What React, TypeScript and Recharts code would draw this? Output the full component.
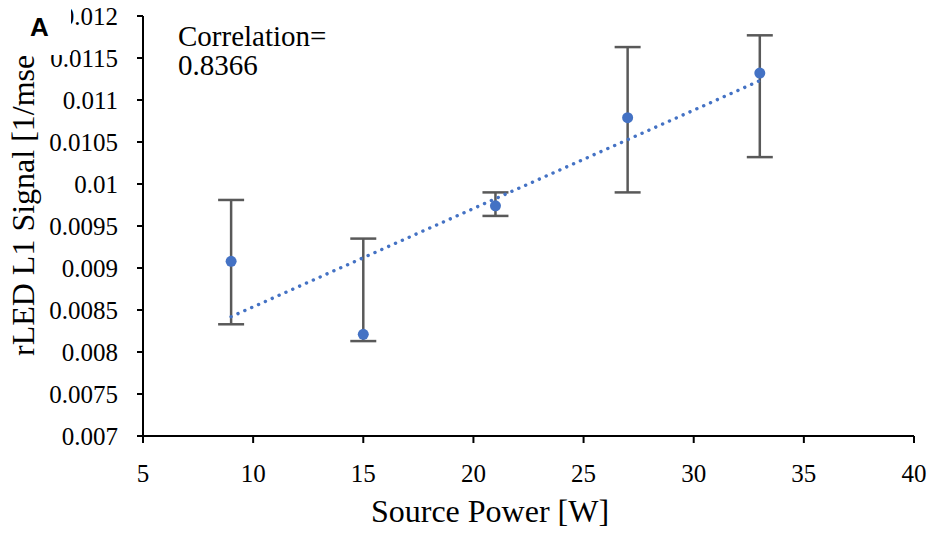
import React from 'react';
import { ComposedChart, Scatter, Line, XAxis, YAxis, ErrorBar } from 'recharts';

const powers = [9, 15, 21, 27, 33];
const signals = [0.00908, 0.00821, 0.00974, 0.01079, 0.01132];
const errLow = [0.00833, 0.00813, 0.00962, 0.0099, 0.01032];
const errHigh = [0.00981, 0.00935, 0.0099, 0.01163, 0.01177];
const trendX = [9, 33];
const trendY = [0.00842, 0.01123];
const xTicks = [5, 10, 15, 20, 25, 30, 35, 40];
const yTicks = [0.007, 0.0075, 0.008, 0.0085, 0.009, 0.0095, 0.01, 0.0105, 0.011, 0.0115, 0.012];
const xTitle = 'Source Power [W]';
const yTitle = 'rLED L1 Signal [1/msec]';
const corrLines = ['Correlation=', '0.8366'];
const panelLabel = 'A';

const pointData = powers.map((x, i) => ({
  x,
  y: signals[i],
  err: [signals[i] - errLow[i], errHigh[i] - signals[i]],
}));
const trendData = trendX.map((x, i) => ({ x, y: trendY[i] }));

const SERIF = 'Liberation Serif, Times New Roman, serif';
const SANS = 'Liberation Sans, Arial, sans-serif';
const BLUE = '#4472C4';

const XTick = (props: any) => (
  <text x={props.x} y={props.y} dy="0.71em" textAnchor="middle" fontSize={25} fontFamily={SERIF} fill="#000">
    {String(props.payload.value)}
  </text>
);

const YTick = (props: any) => (
  <text x={props.x} y={props.y} dy="0.355em" textAnchor="end" fontSize={25} fontFamily={SERIF} fill="#000">
    {String(props.payload.value)}
  </text>
);

const YExtras = () => (
  <text
    x={34}
    y={356}
    transform="rotate(-90 34 356)"
    textAnchor="start"
    fontSize={32}
    fontFamily={SERIF}
    fill="#000"
  >
    {yTitle}
  </text>
);

const XExtras = () => (
  <g>
    <text x={490} y={522} textAnchor="middle" fontSize={32} fontFamily={SERIF} fill="#000">
      {xTitle}
    </text>
    {corrLines.map((t, i) => (
      <text key={t} x={178} y={46 + i * 29} fontSize={29} fontFamily={SERIF} fill="#000">
        {t}
      </text>
    ))}
  </g>
);

const Dot = (props: any) => <circle cx={props.cx} cy={props.cy} r={5.5} fill={BLUE} />;

export default function App() {
  return (
    <div style={{ position: 'absolute', left: 0, top: 0, width: 934, height: 533, background: '#fff' }}>
      <ComposedChart width={934} height={533} margin={{ top: 16, right: 20, bottom: 0, left: 0 }}>
        <XAxis
          dataKey="x"
          type="number"
          domain={[5, 40]}
          ticks={xTicks}
          allowDataOverflow
          height={97}
          tickSize={7}
          tickMargin={21}
          axisLine={{ stroke: '#000', strokeWidth: 2 }}
          tickLine={{ stroke: '#000', strokeWidth: 2 }}
          tick={<XTick />}
          label={<XExtras />}
        />
        <YAxis
          type="number"
          domain={[0.007, 0.012]}
          ticks={yTicks}
          allowDataOverflow
          width={143}
          tickSize={6}
          tickMargin={19}
          axisLine={{ stroke: '#000', strokeWidth: 2 }}
          tickLine={{ stroke: '#000', strokeWidth: 2 }}
          tick={<YTick />}
          label={<YExtras />}
        />
        <Scatter data={pointData} dataKey="y" fill={BLUE} shape={Dot} isAnimationActive={false}>
          <ErrorBar dataKey="err" direction="y" width={13} stroke="#595959" strokeWidth={2.5} isAnimationActive={false} />
        </Scatter>
        <Line
          data={trendData}
          dataKey="y"
          type="linear"
          stroke={BLUE}
          strokeWidth={3.4}
          strokeDasharray="0.1 7.4"
          strokeLinecap="round"
          dot={false}
          activeDot={false}
          isAnimationActive={false}
        />
      </ComposedChart>
      <div
        style={{
          position: 'absolute',
          left: 0,
          top: 0,
          width: 71,
          height: 55,
          background: '#fff',
          zIndex: 10,
        }}
      >
        <svg width={71} height={55} style={{ position: 'absolute', left: 0, top: 0 }}>
          <text x={30} y={36} fontSize={26} fontWeight="bold" fontFamily={SANS} fill="#000">
            {panelLabel}
          </text>
        </svg>
      </div>
    </div>
  );
}
